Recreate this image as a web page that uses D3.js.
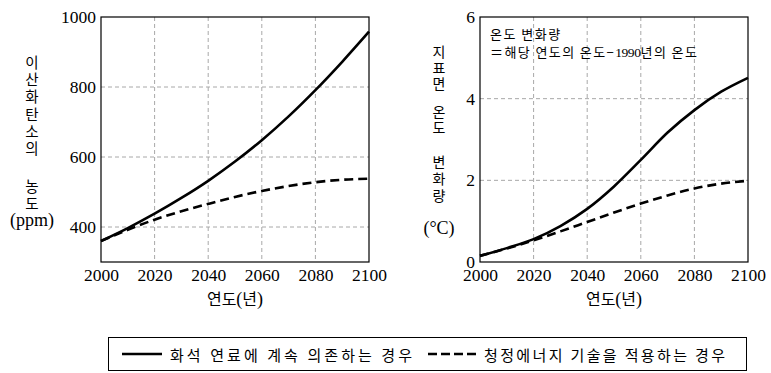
<!DOCTYPE html>
<html>
<head>
<meta charset="utf-8">
<script src="https://cdn.jsdelivr.net/npm/d3@7"></script>
<style>
  html, body { margin: 0; padding: 0; background: #fff; }
  svg { display: block; }
</style>
</head>
<body>
<svg id="chart" width="771" height="373"></svg>
<script>
// Years sampled every decade
const years = [2000, 2010, 2020, 2030, 2040, 2050, 2060, 2070, 2080, 2090, 2100];

// CO2 concentration (ppm)
const co2Fossil = [360, 397, 438, 483, 532, 587, 648, 716, 791, 872, 958];
const co2Clean  = [360, 392, 421, 445, 466, 486, 503, 517, 528, 535, 538];

// Surface temperature change (°C)
const tempFossil = [0.15, 0.34, 0.56, 0.88, 1.30, 1.85, 2.50, 3.17, 3.72, 4.17, 4.51];
const tempClean  = [0.15, 0.33, 0.53, 0.75, 0.98, 1.21, 1.43, 1.63, 1.80, 1.92, 1.99];

// Tick labels
const xTicks = [2000, 2020, 2040, 2060, 2080, 2100];
const co2Ticks = [400, 600, 800, 1000];
const tempTicks = [0, 2, 4, 6];

const legendLabels = ["화석 연료에 계속 의존하는 경우", "청정에너지 기술을 적용하는 경우"];

const SERIF = '"Liberation Serif"';
const SANS = '"Noto Sans CJK KR"';

const svg = d3.select("#chart");

function drawPanel(opt) {
  const x = d3.scaleLinear().domain([2000, 2100]).range([opt.left, opt.right]);
  const y = d3.scaleLinear().domain(opt.yDomain).range([opt.bottom, opt.top]);
  const g = svg.append("g");

  // dashed grid
  g.selectAll("line.vgrid").data(xTicks.slice(1, -1)).join("line")
    .attr("x1", d => x(d)).attr("x2", d => x(d))
    .attr("y1", opt.top).attr("y2", opt.bottom)
    .attr("stroke", "#a8a8a8").attr("stroke-width", 1).attr("stroke-dasharray", "4,3");
  g.selectAll("line.hgrid").data(opt.grid).join("line")
    .attr("x1", opt.left).attr("x2", opt.right)
    .attr("y1", d => y(d)).attr("y2", d => y(d))
    .attr("stroke", "#a8a8a8").attr("stroke-width", 1).attr("stroke-dasharray", "4,3");

  // frame
  g.append("rect")
    .attr("x", opt.left).attr("y", opt.top)
    .attr("width", opt.right - opt.left).attr("height", opt.bottom - opt.top)
    .attr("fill", "none").attr("stroke", "#000").attr("stroke-width", 1.2);

  // axes (labels only, the frame provides the lines)
  const xAxis = d3.axisBottom(x).tickValues(xTicks).tickSize(0).tickPadding(7).tickFormat(d3.format("d"));
  const gx = g.append("g").attr("transform", `translate(0,${opt.bottom})`).call(xAxis);
  gx.select(".domain").remove();
  gx.selectAll("text").style("font-family", SERIF).style("font-size", "17.5px").attr("fill", "#000");

  const yAxis = d3.axisLeft(y).tickValues(opt.yTicks).tickSize(0).tickPadding(5).tickFormat(d3.format("d"));
  const gy = g.append("g").attr("transform", `translate(${opt.left},0)`).call(yAxis);
  gy.select(".domain").remove();
  gy.selectAll("text").style("font-family", SERIF).style("font-size", "17.5px").attr("fill", "#000");

  // x axis title
  const xt = g.append("text")
    .attr("x", (opt.left + opt.right) / 2).attr("y", 305)
    .attr("text-anchor", "middle")
    .style("font-family", SANS).style("font-size", "16px");
  xt.append("tspan").text("연도");
  xt.append("tspan").style("font-family", SERIF).style("font-size", "18px").text("(");
  xt.append("tspan").text("년");
  xt.append("tspan").style("font-family", SERIF).style("font-size", "18px").text(")");

  // series
  const line = d3.line().x((d, i) => x(years[i])).y(d => y(d)).curve(d3.curveMonotoneX);
  g.append("path").datum(opt.clean).attr("d", line)
    .attr("fill", "none").attr("stroke", "#000").attr("stroke-width", 2.6)
    .attr("stroke-dasharray", "9,5");
  g.append("path").datum(opt.fossil).attr("d", line)
    .attr("fill", "none").attr("stroke", "#000").attr("stroke-width", 2.6);

  // vertical y title: one upright column per word
  opt.titleWords.forEach(w => {
    g.append("text")
      .attr("x", opt.titleX).attr("y", w.top)
      .style("writing-mode", "vertical-rl")
      .style("text-orientation", "upright")
      .style("font-family", SANS).style("font-size", opt.titleSize + "px")
      .style("letter-spacing", w.gap + "px")
      .text(w.text);
  });
  g.append("text")
    .attr("x", opt.titleX).attr("y", opt.unitY)
    .attr("text-anchor", "middle").attr("dominant-baseline", "central")
    .style("font-family", SERIF).style("font-size", "18px")
    .text(opt.unit);
  return g;
}

drawPanel({
  left: 101, right: 369, top: 17, bottom: 262,
  yDomain: [300, 1000], yTicks: co2Ticks, grid: [400, 600, 800],
  fossil: co2Fossil, clean: co2Clean,
  titleX: 32, titleSize: 14.5,
  titleWords: [
    { text: "이산화탄소의", top: 55.5, gap: 2.6 },
    { text: "농도", top: 179, gap: 2.6 }
  ],
  unit: "(ppm)", unitY: 220
});

const right = drawPanel({
  left: 480, right: 748, top: 17, bottom: 262,
  yDomain: [0, 6], yTicks: tempTicks, grid: [2, 4],
  fossil: tempFossil, clean: tempClean,
  titleX: 439, titleSize: 14,
  titleWords: [
    { text: "지표면", top: 45, gap: 1.6 },
    { text: "온도", top: 105, gap: 1.6 },
    { text: "변화량", top: 155, gap: 3 }
  ],
  unit: "(°C)", unitY: 228
});

// note inside the temperature panel
right.append("text").attr("x", 490).attr("y", 39)
  .style("font-family", SANS).style("font-size", "13px").style("letter-spacing", "1.5px")
  .text("온도 변화량");
const note = right.append("text").attr("x", 490).attr("y", 57)
  .style("font-family", SANS).style("font-size", "13px").style("letter-spacing", "1.4px");
note.append("tspan").text("＝해당 연도의 온도−");
note.append("tspan").style("font-family", SERIF).style("font-size", "13.5px").style("letter-spacing", "-0.4px").text("1990");
note.append("tspan").text("년의 온도");

// legend
const lg = svg.append("g");
lg.append("rect").attr("x", 108.5).attr("y", 337.5).attr("width", 638).attr("height", 33)
  .attr("fill", "#fff").attr("stroke", "#000").attr("stroke-width", 1);
const legendItems = [
  { label: legendLabels[0], x1: 122, x2: 162, tx: 170, w: 242, dash: null },
  { label: legendLabels[1], x1: 428, x2: 479, tx: 484, w: 241, dash: "9,4" }
];
legendItems.forEach(it => {
  lg.append("line").attr("x1", it.x1).attr("x2", it.x2).attr("y1", 354).attr("y2", 354)
    .attr("stroke", "#000").attr("stroke-width", 2.6)
    .attr("stroke-dasharray", it.dash);
  lg.append("text").attr("x", it.tx).attr("y", 354).attr("dominant-baseline", "central")
    .style("font-family", SANS).style("font-size", "15px")
    .attr("textLength", it.w).attr("lengthAdjust", "spacing")
    .text(it.label);
});
</script>
</body>
</html>
